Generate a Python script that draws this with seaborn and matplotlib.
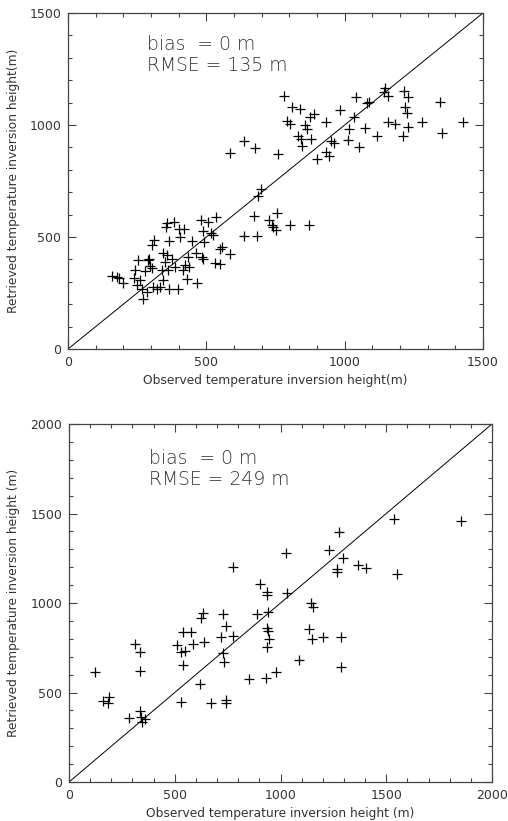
import matplotlib
matplotlib.use("Agg")
import matplotlib.pyplot as plt
import seaborn as sns
import pandas as pd

# Upper panel: observed vs retrieved inversion height (m)
obs_top = [585, 636, 676, 760, 697, 685,
           781, 808, 838, 793, 802, 857, 863, 832, 845, 841, 877, 875, 889, 899,
           932, 932, 943, 950, 962, 983, 1016, 1013, 1034, 1041, 1053, 1073, 1080,
           1089, 1116, 1146, 1143, 1158, 1158, 1182, 1210, 1215, 1228, 1218, 1224,
           1228, 1280, 1344, 1350, 1426,
           158, 176, 186, 200, 239, 242, 254, 260, 250, 266, 270, 278, 287, 290,
           296, 302, 312, 302, 294, 308, 320, 332, 338, 342, 344, 350, 354, 358,
           357, 366, 363, 366, 375, 383, 387, 399, 402, 405, 419, 415, 423, 431,
           435, 438, 447, 463, 465, 480, 487, 483, 489, 492, 507, 516, 525, 531,
           535, 549, 549, 558, 585, 636, 682, 673, 728, 736, 754, 752,
           740, 802, 872]
ret_top = [874, 927, 896, 870, 713, 683,
           1131, 1082, 1073, 1019, 1004, 1000, 982, 951, 906, 936, 936, 1037, 1049, 847,
           1015, 881, 862, 930, 918, 1067, 982, 933, 1037, 1126, 903, 988, 1097,
           1101, 952, 1164, 1146, 1131, 1012, 1004, 951, 1153, 1124, 1079, 1052,
           992, 1012, 1104, 963, 1012,
           327, 320, 315, 296, 315, 353, 397, 308, 286, 266, 223, 350, 256, 397,
           370, 464, 487, 360, 404, 278, 266, 275, 353, 308, 427, 390, 543, 561,
           420, 482, 353, 266, 404, 565, 365, 266, 534, 501, 534, 353, 375, 311,
           412, 367, 483, 430, 296, 576, 528, 412, 404, 479, 568, 516, 511, 385,
           588, 379, 445, 457, 422, 504, 504, 594, 576, 554, 606, 531,
           546, 554, 554]

# Lower panel
obs_bot = [774, 903, 935, 938, 632, 623, 730, 887, 942,
           1537, 1853, 1278, 1231, 1024, 1294, 1266, 1269, 1368, 1404, 1552, 1032,
           1143, 1155,
           742, 538, 575, 935, 942, 774, 717, 947, 312, 509, 588, 638, 938, 336,
           528, 548, 730, 734, 538, 123, 336, 619, 851, 931, 979, 159, 191, 183,
           528, 670, 741, 742, 285, 336, 340, 359, 344,
           1136, 1148, 1203, 1286, 1086, 1286]
ret_bot = [1203, 1104, 1063, 1045, 943, 915, 939, 939, 951,
           1468, 1458, 1395, 1296, 1277, 1253, 1188, 1175, 1212, 1194, 1160, 1054,
           1002, 976,
           872, 840, 840, 859, 845, 816, 808, 797, 769, 765, 769, 784, 756, 728,
           728, 733, 719, 672, 654, 613, 622, 548, 574, 583, 613, 454, 477, 444,
           449, 444, 458, 443, 356, 398, 361, 350, 337,
           853, 797, 812, 808, 682, 644]

panels = [
    dict(obs=obs_top, ret=ret_top, lim=1500, rmse="135",
         xlabel="Observed temperature inversion height(m)",
         ylabel="Retrieved temperature inversion height(m)",
         rect=[68 / 508, 1 - 349 / 821, 415 / 508, 336 / 821], xl_y=-0.074),
    dict(obs=obs_bot, ret=ret_bot, lim=2000, rmse="249",
         xlabel="Observed temperature inversion height (m)",
         ylabel="Retrieved temperature inversion height (m)",
         rect=[69 / 508, 1 - 782 / 821, 423 / 508, 358 / 821], xl_y=-0.07),
]

sns.set_style("ticks")
plt.rcParams['font.family'] = ['DejaVu Sans']

fig = plt.figure(figsize=(5.08, 8.21), dpi=100)
txt_col = "#333333"

for p in panels:
    ax = fig.add_axes(p["rect"])
    df = pd.DataFrame({"obs": p["obs"], "ret": p["ret"]})
    sns.scatterplot(data=df, x="obs", y="ret", marker="+", s=55,
                    color="black", linewidth=0.9, ax=ax)
    ax.axline((0, 0), slope=1, color="black", lw=0.7)
    ax.set_xlim(0, p["lim"])
    ax.set_ylim(0, p["lim"])
    ax.set_xticks(range(0, p["lim"] + 1, 500))
    ax.set_yticks(range(0, p["lim"] + 1, 500))
    ax.set_xticks(range(0, p["lim"] + 1, 100), minor=True)
    ax.set_yticks(range(0, p["lim"] + 1, 100), minor=True)
    ax.tick_params(which="both", direction="in", top=True, right=True,
                   color="#444444", width=0.8, labelsize=9, labelcolor=txt_col, pad=5)
    ax.tick_params(which="major", length=5.5)
    ax.tick_params(which="minor", length=3)
    for s in ax.spines.values():
        s.set_color("#444444")
        s.set_linewidth(0.9)
    ax.set_xlabel(p["xlabel"], fontsize=8.8, color=txt_col)
    ax.set_ylabel(p["ylabel"], fontsize=8.8, color=txt_col)
    ax.xaxis.set_label_coords(0.5, p["xl_y"])
    ax.yaxis.set_label_coords(-0.115, 0.5)
    ax.text(0.19, 0.905, "bias  = 0 m", transform=ax.transAxes,
            fontsize=13.5, color=txt_col, va="center", fontweight="light")
    ax.text(0.19, 0.845, "RMSE = " + p["rmse"] + " m", transform=ax.transAxes,
            fontsize=13.5, color=txt_col, va="center", fontweight="light")

fig.savefig("out.png", dpi=100)
